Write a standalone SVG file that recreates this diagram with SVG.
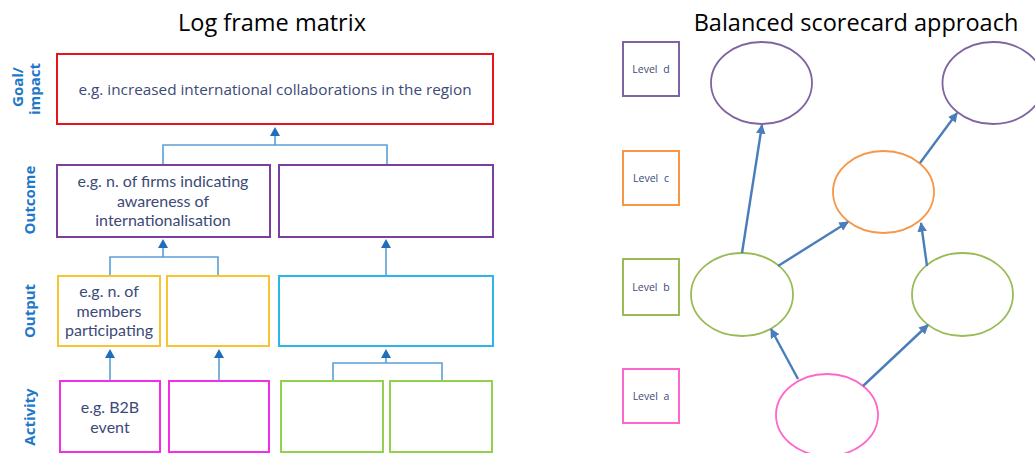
<svg xmlns="http://www.w3.org/2000/svg" width="1035" height="453" viewBox="0 0 1035 453">
  <style>
    .title { font-family: "Open Sans", "Noto Sans", sans-serif; font-size: 23.5px; fill: #000; text-anchor: middle; }
    .box { fill: #fff; stroke-width: 2; }
    .txt { font-family: Lato, "Open Sans", sans-serif; font-size: 16px; fill: #3c4a78; text-anchor: middle; }
    .goal-txt { font-family: "Open Sans", "Noto Sans", sans-serif; font-size: 15.3px; }
    .side { font-family: "Open Sans", "Noto Sans", sans-serif; font-size: 15px; font-weight: bold; fill: #1f78c8; text-anchor: middle; }
    .lvl { font-family: "Open Sans", "Noto Sans", sans-serif; font-size: 10.5px; fill: #3c4a78; text-anchor: middle; word-spacing: 3px; }
    .conn { fill: none; stroke: #5b9fd6; stroke-width: 1.6; }
    .head { fill: #1f6fb8; }
    .ell { fill: #fff; stroke-width: 1.8; }
    .bsc { fill: none; stroke: #4a7ebb; stroke-width: 2.4; marker-end: url(#tip); }
    .red { stroke: #e8141c; }
    .purple { stroke: #7b3fa0; }
    .yellow { stroke: #f7c531; }
    .cyan { stroke: #2ab6e8; }
    .magenta { stroke: #f22ee6; }
    .green { stroke: #92d050; }
    .lv-d { stroke: #8064a2; }
    .lv-c { stroke: #f79646; }
    .lv-b { stroke: #9bbb59; }
    .lv-a { stroke: #ff66cc; }
  </style>
  <defs>
    <marker id="tip" viewBox="0 0 10 10" refX="9" refY="5" markerWidth="4" markerHeight="4" orient="auto" markerUnits="strokeWidth">
      <path d="M0,0 L10,5 L0,10 z" fill="#4a7ebb"/>
    </marker>
  </defs>

  <!-- Titles -->
  <text class="title" x="272" y="31">Log frame matrix</text>
  <text class="title" x="856" y="31">Balanced scorecard approach</text>

  <!-- Row labels -->
  <g id="row-labels">
    <text class="side" transform="translate(23,87) rotate(-90)">Goal/</text>
    <text class="side" transform="translate(40,89) rotate(-90)">impact</text>
    <text class="side" transform="translate(35,200) rotate(-90)">Outcome</text>
    <text class="side" transform="translate(35,311) rotate(-90)">Output</text>
    <text class="side" transform="translate(35,417) rotate(-90)">Activity</text>
  </g>

  <!-- Log frame connectors -->
  <g id="logframe-connectors">
    <path class="conn" d="M163,164 V145 H387 V164 M275,145 V134"/>
    <path class="head" d="M270,136 L275,127 L280,136 z"/>
    <path class="conn" d="M110,276 V257 H218 V276 M163,257 V246"/>
    <path class="head" d="M158,248 L163,239 L168,248 z"/>
    <path class="conn" d="M386,276 V246"/>
    <path class="head" d="M381,248 L386,239 L391,248 z"/>
    <path class="conn" d="M110,381 V357"/>
    <path class="head" d="M105,358 L110,349 L115,358 z"/>
    <path class="conn" d="M219,381 V357"/>
    <path class="head" d="M214,358 L219,349 L224,358 z"/>
    <path class="conn" d="M333,380 V363 H442 V380 M386,363 V357"/>
    <path class="head" d="M381,358 L386,349 L391,358 z"/>
  </g>

  <!-- Goal -->
  <g id="goal">
    <rect class="box red" x="57" y="54" width="436" height="70"/>
    <text class="txt goal-txt" x="275" y="95">e.g. increased international collaborations in the region</text>
  </g>

  <!-- Outcomes -->
  <g id="outcome-1">
    <rect class="box purple" x="57" y="165" width="213" height="72"/>
    <text class="txt" x="163" y="187">e.g. n. of firms indicating<tspan x="163" dy="19.5">awareness of</tspan><tspan x="163" dy="19.5">internationalisation</tspan></text>
  </g>
  <g id="outcome-2">
    <rect class="box purple" x="279" y="165" width="214" height="72"/>
  </g>

  <!-- Outputs -->
  <g id="output-1">
    <rect class="box yellow" x="58" y="276" width="102" height="70"/>
    <text class="txt" x="109" y="297">e.g. n. of<tspan x="109" dy="19.5">members</tspan><tspan x="109" dy="19.5">participating</tspan></text>
  </g>
  <g id="output-2">
    <rect class="box yellow" x="167" y="276" width="102" height="70"/>
  </g>
  <g id="output-3">
    <rect class="box cyan" x="279" y="276" width="214" height="70"/>
  </g>

  <!-- Activities -->
  <g id="activity-1">
    <rect class="box magenta" x="60" y="381" width="100" height="71"/>
    <text class="txt" x="110" y="413">e.g. B2B<tspan x="110" dy="19.5">event</tspan></text>
  </g>
  <g id="activity-2">
    <rect class="box magenta" x="169" y="381" width="100" height="71"/>
  </g>
  <g id="activity-3">
    <rect class="box green" x="281" y="381" width="102" height="71"/>
  </g>
  <g id="activity-4">
    <rect class="box green" x="390" y="381" width="102" height="71"/>
  </g>

  <!-- Scorecard level legend -->
  <g id="level-d">
    <rect class="box lv-d" x="623" y="42" width="56" height="54"/>
    <text class="lvl" x="651" y="73">Level d</text>
  </g>
  <g id="level-c">
    <rect class="box lv-c" x="623" y="151" width="56" height="54"/>
    <text class="lvl" x="651" y="182">Level c</text>
  </g>
  <g id="level-b">
    <rect class="box lv-b" x="623" y="259" width="56" height="56"/>
    <text class="lvl" x="651" y="291">Level b</text>
  </g>
  <g id="level-a">
    <rect class="box lv-a" x="623" y="369" width="56" height="54"/>
    <text class="lvl" x="651" y="400">Level a</text>
  </g>

  <!-- Scorecard objectives -->
  <g id="obj-d1"><ellipse class="ell lv-d" cx="761.5" cy="83" rx="50.5" ry="41"/></g>
  <g id="obj-d2"><ellipse class="ell lv-d" cx="993" cy="83" rx="50.5" ry="41"/></g>
  <g id="obj-c"><ellipse class="ell lv-c" cx="883.5" cy="192" rx="50.5" ry="41"/></g>
  <g id="obj-b1"><ellipse class="ell lv-b" cx="742" cy="294.5" rx="51" ry="41.5"/></g>
  <g id="obj-b2"><ellipse class="ell lv-b" cx="962.5" cy="294.5" rx="50.5" ry="41.5"/></g>
  <g id="obj-a"><ellipse class="ell lv-a" cx="827" cy="415" rx="51" ry="41"/></g>

  <!-- Scorecard cause-effect links -->
  <g id="scorecard-connectors">
    <line class="bsc" x1="742" y1="253" x2="762" y2="125"/>
    <line class="bsc" x1="778" y1="266" x2="848" y2="222"/>
    <line class="bsc" x1="920" y1="163" x2="957" y2="113"/>
    <line class="bsc" x1="927" y1="266" x2="921" y2="223"/>
    <line class="bsc" x1="798" y1="379" x2="771" y2="329"/>
    <line class="bsc" x1="863" y1="386" x2="928" y2="325"/>
  </g>
</svg>
